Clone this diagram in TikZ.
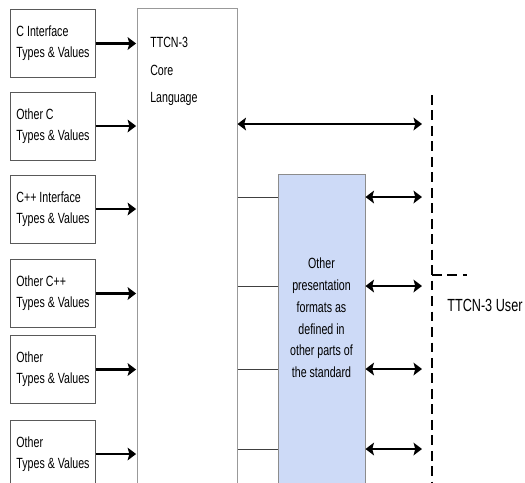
\documentclass[tikz,border=0pt]{standalone}
\usepackage{fontspec}
\setmainfont{Liberation Sans}[FakeStretch=0.72]
\usepackage{tikz}
\usetikzlibrary{arrows.meta, positioning}
\definecolor{opblue}{RGB}{205,218,247}

\begin{document}
\begin{tikzpicture}[
  x=0.025cm, y=-0.025cm, font=\fontsize{10.5}{15}\selectfont,
  tv/.style={rectangle, draw=black!65, line width=0.7pt, align=left, minimum width=2.1cm, minimum height=1.7cm},
  cl/.style={rectangle, draw=black!40, line width=0.7pt, minimum width=2.475cm, minimum height=12.275cm, inner sep=0pt},
  op/.style={rectangle, draw=black!45, fill=opblue, line width=0.7pt, minimum width=2.175cm, minimum height=8.125cm, inner sep=0pt},
  fl/.style={-{Stealth[length=6pt, width=9pt, inset=1.2pt]}, line width=1.6pt, shorten >=1pt},
  dl/.style={{Stealth[length=6pt, width=9pt, inset=1.2pt]}-{Stealth[length=6pt, width=9pt, inset=1.2pt]}, line width=1.6pt},
  tl/.style={black!75, line width=0.7pt},
  ds/.style={line width=1pt, dash pattern=on 7pt off 4pt}]

\useasboundingbox (0,0) rectangle (525,482);
\clip (0,0) rectangle (525,482);

% ---- Left column: type and value sources ----
\node[tv] (b1) at (53,43.5) {C Interface\\Types \& Values};
\node[tv] (b2) at (53,126) {Other C\\Types \& Values};
\node[tv] (b3) at (53,209) {C++ Interface\\Types \& Values};
\node[tv] (b4) at (53,293.5) {Other C++\\Types \& Values};
\node[tv] (b5) at (53,369.5) {Other\\Types \& Values};
\node[tv] (b6) at (53,454) {Other\\Types \& Values};

% ---- Core language and presentation formats ----
\node[cl] (core) at (187.5,254.5) {};
\node[anchor=north west, inner sep=0pt, align=left, font=\fontsize{10.5}{19.5}\selectfont] (corelbl) at (150,37) {TTCN-3\\Core\\Language};
\node[op] (opf) at (321.5,337.5) {};
\node[align=center, inner sep=0pt, font=\fontsize{10.5}{15.5}\selectfont] (opflbl) at (321.5,318) {Other\\presentation\\formats as\\defined in\\other parts of\\the standard};

\foreach \i in {1,...,6} \draw[fl] (b\i.east) -- (b\i.east -| core.west);

% ---- User side ----
\coordinate (u0) at (422,124);
\coordinate (u1) at (422,197);
\coordinate (u2) at (422,286);
\coordinate (u3) at (422,369);
\coordinate (u4) at (422,449);
\coordinate (dtop) at (432,95);
\coordinate (dbot) at (432,500);
\coordinate (dj) at (432,275);
\coordinate (dk) at (467,275);
\node[anchor=base west, inner sep=0pt, font=\fontsize{12.5}{15}\selectfont] (user) at (447,311) {TTCN-3 User};

\draw[dl] (core.east |- u0) -- (u0);
\foreach \i in {1,...,4} {
  \draw[tl] (core.east |- u\i) -- (opf.west |- u\i);
  \draw[dl] (opf.east |- u\i) -- (u\i);
}
\draw[ds] (dtop) -- (dbot);
\draw[ds] (dj) -- (dk);
\end{tikzpicture}
\end{document}
